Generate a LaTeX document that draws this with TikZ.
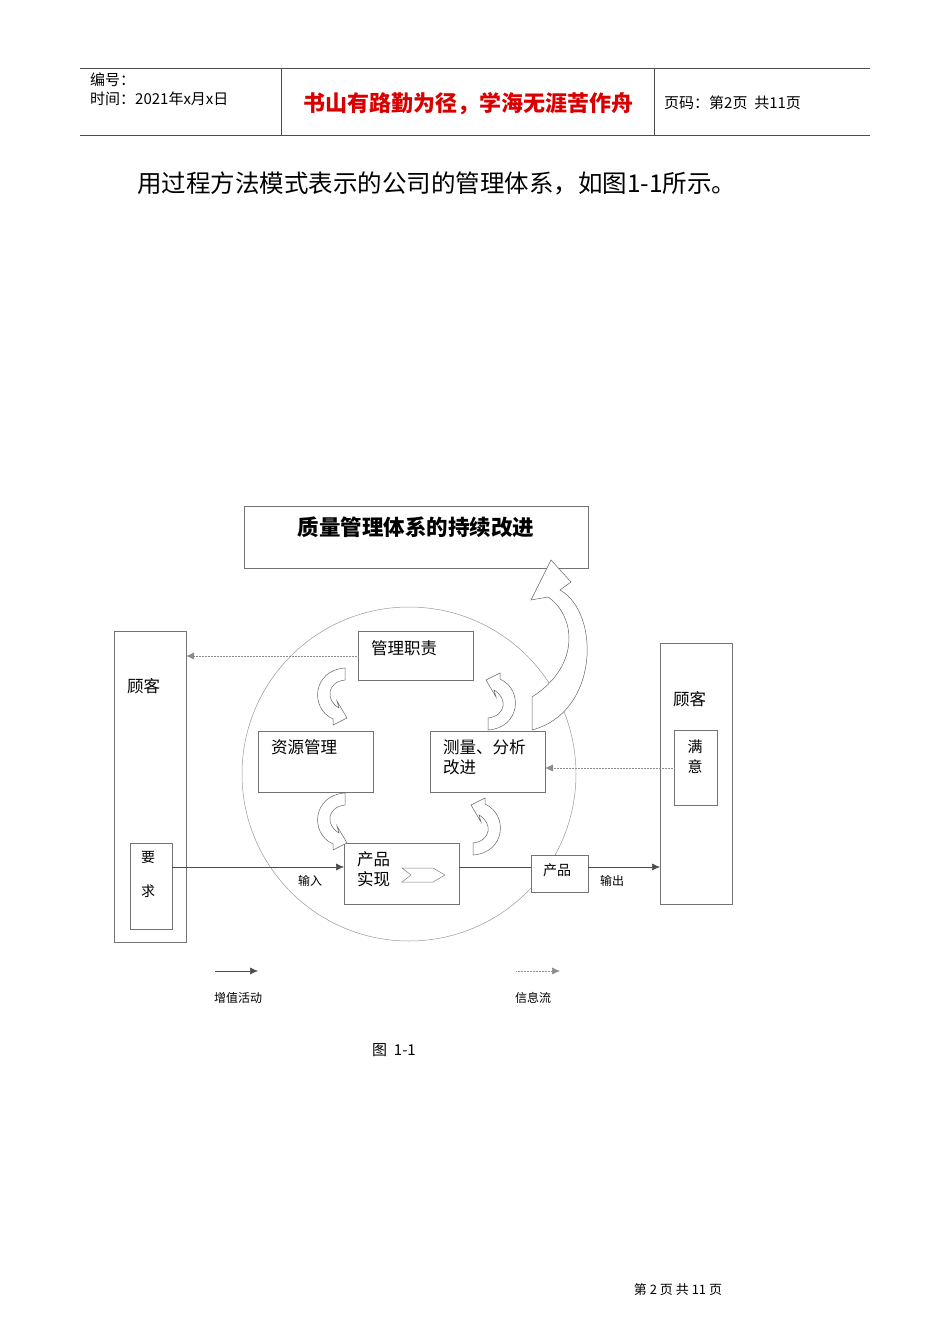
\documentclass[tikz,border=0pt]{standalone}
\usepackage{fontspec}
\setmainfont{Noto Sans CJK SC}
\usetikzlibrary{arrows.meta}
\tikzset{
  bx/.style={draw=black!55,line width=0.6pt},
  lbl/.style={anchor=west,inner sep=0pt,font=\fontsize{16.5}{18}\selectfont},
  sm/.style={inner sep=0pt,font=\fontsize{12}{14}\selectfont},
  ar/.style={-{Latex[length=8pt,width=7pt]},black!70,line width=0.5pt},
  dot/.style={ar,densely dotted,black!45},
  carrow/.pic={\draw[black!60,line width=0.5pt,fill=white]
    (0,0) -- (0,12) .. controls (-18,14) and (-20,32) .. (-6,40) -- (-8,33) -- (2,50) -- (-12,57) -- (-12,51)
    .. controls (-36,40) and (-32,2) .. (0,0) -- cycle;}
}
\begin{document}
\begin{tikzpicture}[x=1pt,y=-1pt]
\useasboundingbox[fill=white] (0,0) rectangle (950,1344);
% header
\draw[black!70,line width=0.8pt] (80,68) -- (870,68) (80,135) -- (870,135);
\draw[black!70,line width=0.8pt] (281,68) -- (281,135) (654,68) -- (654,135);
\node[lbl,font=\fontsize{15}{17}\selectfont] (h1) at (90,80) {编号：};
\node[lbl,font=\fontsize{15}{17}\selectfont] (h2) at (90,99) {时间：2021年x月x日};
\node[inner sep=0pt,text=red!85!black,font=\fontsize{22}{24}\selectfont\bfseries] (h3) at (468,104) {书山有路勤为径，学海无涯苦作舟};
\node[lbl,font=\fontsize{15}{17}\selectfont] (h4) at (664,103) {页码：第2页\ \ 共11页};
\node[lbl,font=\fontsize{24.5}{27}\selectfont] (intro) at (137,183) {用过程方法模式表示的公司的管理体系，如图1-1所示。};
% title box
\draw[bx] (244,506) rectangle (588,568);
\node[inner sep=0pt,font=\fontsize{21.5}{24}\selectfont\bfseries] (title) at (416,527) {质量管理体系的持续改进};
% circle
\node[draw=black!40,line width=0.5pt,circle,minimum size=334pt,inner sep=0pt] (circ) at (409,774) {};
% customer left
\draw[bx] (114,631) rectangle (186,942);
\node[lbl] (gk1) at (127,686) {顾客};
\draw[bx] (130,843) rectangle (172,929);
\coordinate (reqR) at (172,867);
\node[sm,font=\fontsize{14}{16}\selectfont] (y1) at (148,857) {要};
\node[sm,font=\fontsize{14}{16}\selectfont] (y2) at (148,891) {求};
% inner boxes
\draw[bx,fill=white] (358,631) rectangle (473,680);
\node[lbl] (glzz) at (371,648) {管理职责};
\coordinate (glL) at (358,656);
\draw[bx] (258,731) rectangle (373,792);
\node[lbl] (zygl) at (271,747) {资源管理};
\draw[bx] (430,731) rectangle (545,792);
\node[lbl] (cl1) at (443,747) {测量、分析};
\node[lbl] (cl2) at (443,767) {改进};
\coordinate (clR) at (545,768);
\draw[bx,fill=white] (344,843) rectangle (459,904);
\node[lbl] (cp1) at (357,859) {产品};
\node[lbl] (cp2) at (357,879) {实现};
\coordinate (cpL) at (344,867);
\coordinate (cpR) at (459,867);
\draw[black!50,line width=0.5pt] (402,868) -- (433,868) -- (445,875) -- (433,882) -- (402,882) -- (411,875) -- cycle;
\draw[bx,fill=white] (531,855) rectangle (588,892);
\node[sm,font=\fontsize{14}{16}\selectfont] (pr) at (557,870) {产品};
\coordinate (prL) at (531,867);
\coordinate (prR) at (588,867);
% customer right
\draw[bx] (660,643) rectangle (732,904);
\node[lbl] (gk2) at (673,699) {顾客};
\draw[bx] (674,730) rectangle (717,805);
\node[sm,font=\fontsize{15}{17}\selectfont] (my1) at (695,747) {满};
\node[sm,font=\fontsize{15}{17}\selectfont] (my2) at (695,767) {意};
\coordinate (myL) at (674,768);
\coordinate (gk2L) at (660,867);
\coordinate (gk1R) at (186,656);
% curved arrows
\pic at (345,668) {carrow};
\pic at (345,793) {carrow};
\pic[rotate=180] at (488,730) {carrow};
\pic[rotate=180] at (473,855) {carrow};
\draw[black!60,line width=0.5pt,fill=white] (551,560) -- (531,600) -- (548,597)
  .. controls (575,615) and (582,665) .. (532,697) -- (532,730)
  .. controls (600,712) and (600,612) .. (560,590) -- (571,582) -- cycle;
% connectors
\draw[dot] (glL) -- (gk1R);
\draw[dot] (myL) -- (clR);
\draw[ar] (reqR) -- (cpL);
\draw[black!70,line width=0.5pt] (cpR) -- (prL);
\draw[ar] (prR) -- (gk2L);
\node[sm] (in) at (310,881) {输入};
\node[sm] (out) at (612,881) {输出};
% legend
\coordinate (l1a) at (215,971); \coordinate (l1b) at (258,971);
\coordinate (l2a) at (516,971); \coordinate (l2b) at (560,971);
\draw[ar] (l1a) -- (l1b);
\draw[dot] (l2a) -- (l2b);
\node[sm] (zz) at (238,998) {增值活动};
\node[sm] (xx) at (533,998) {信息流};
\node[inner sep=0pt,font=\fontsize{15}{17}\selectfont] (fig) at (394,1050) {图\ \ 1-1};
\node[inner sep=0pt,font=\fontsize{13}{15}\selectfont] (foot) at (678,1290) {第\ 2\ 页\ 共\ 11\ 页};
\end{tikzpicture}
\end{document}
